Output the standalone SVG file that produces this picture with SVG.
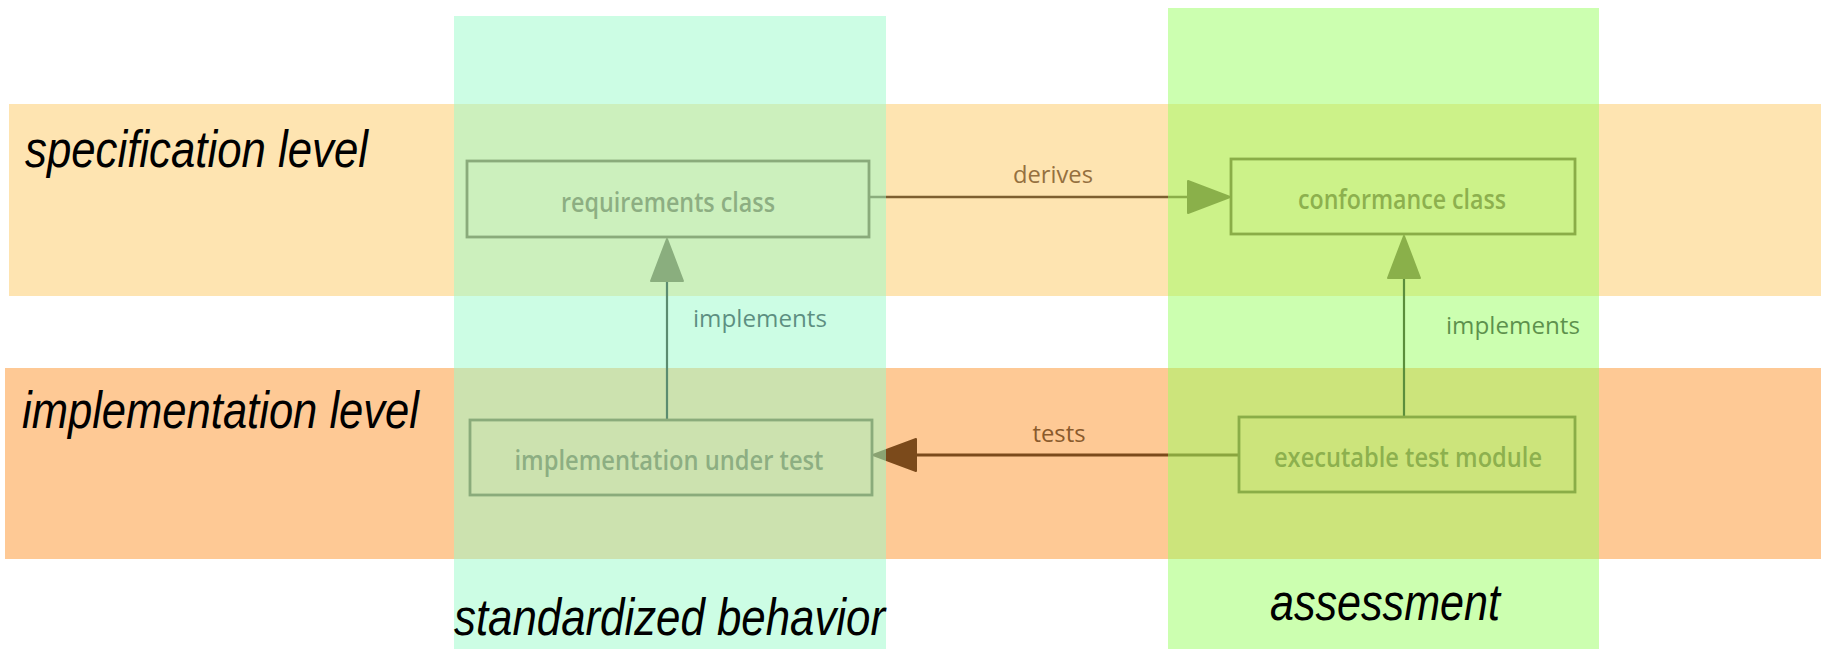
<svg xmlns="http://www.w3.org/2000/svg" width="1821" height="649" viewBox="0 0 1821 649">
<style>
.lvl{font-family:"Liberation Sans",Arial,sans-serif;font-style:italic;font-size:52px;fill:#000}
.box{fill:none;stroke:#7b5a2d;stroke-width:2.8}
.btxt{font-family:"Open Sans","DejaVu Sans",sans-serif;font-weight:600;font-size:27px;fill:#80603a;text-anchor:middle}
.ltxt{font-family:"Open Sans","DejaVu Sans",sans-serif;font-size:23px}
.vline{stroke:#1c1d16;stroke-width:2.2;fill:none}
.head{stroke-linejoin:round;stroke-width:2}
</style>
<rect width="1821" height="649" fill="#ffffff"/>
<g id="bands">
<rect id="band-spec" x="9" y="104" width="1812" height="192" fill="#fee4b1"/>
<rect id="band-impl" x="5" y="368" width="1816" height="191" fill="#fec995"/>
</g>
<text class="lvl" x="25" y="167" textLength="343" lengthAdjust="spacingAndGlyphs">specification level</text>
<text class="lvl" x="22" y="428" textLength="397" lengthAdjust="spacingAndGlyphs">implementation level</text>
<g id="connectors">
<g id="c-derives">
<line x1="869" y1="197" x2="1187" y2="197" stroke="#7d5f30" stroke-width="2.5"/>
<polygon class="head" points="1230,197 1188,181 1188,213" fill="#7b6133" stroke="#7b6133"/>
<text class="ltxt" x="1053" y="183" text-anchor="middle" fill="#95703f" textLength="80" lengthAdjust="spacingAndGlyphs">derives</text>
</g>
<g id="c-tests">
<line x1="1239" y1="455" x2="916" y2="455" stroke="#7b4a1b" stroke-width="3"/>
<polygon class="head" points="873,455 916,439 916,471" fill="#7b4a1b" stroke="#7b4a1b"/>
<text class="ltxt" x="1059" y="442" text-anchor="middle" fill="#8a5a2c" textLength="53" lengthAdjust="spacingAndGlyphs">tests</text>
</g>
<g id="c-impl-left">
<line class="vline" x1="667" y1="420" x2="667" y2="281"/>
<polygon class="head" points="667,239 651,281 683,281" fill="#7b6133" stroke="#7b6133"/>
<text class="ltxt" x="693" y="327" fill="#1e2238" textLength="134" lengthAdjust="spacingAndGlyphs">implements</text>
</g>
<g id="c-impl-right">
<line class="vline" x1="1404" y1="417" x2="1404" y2="278"/>
<polygon class="head" points="1404,236 1388,278 1420,278" fill="#7b6133" stroke="#7b6133"/>
<text class="ltxt" x="1446" y="334" fill="#1e2238" textLength="134" lengthAdjust="spacingAndGlyphs">implements</text>
</g>
</g>
<g id="node-requirements-class">
<rect class="box" x="467" y="161" width="402" height="76"/>
<text class="btxt" x="668" y="212" textLength="214" lengthAdjust="spacingAndGlyphs">requirements class</text>
</g>
<g id="node-conformance-class">
<rect class="box" x="1231" y="159" width="344" height="75"/>
<text class="btxt" x="1402" y="209" textLength="208" lengthAdjust="spacingAndGlyphs">conformance class</text>
</g>
<g id="node-implementation-under-test">
<rect class="box" x="470" y="420" width="402" height="75"/>
<text class="btxt" x="669" y="470" textLength="309" lengthAdjust="spacingAndGlyphs">implementation under test</text>
</g>
<g id="node-executable-test-module">
<rect class="box" x="1239" y="417" width="336" height="75"/>
<text class="btxt" x="1408" y="467" textLength="268" lengthAdjust="spacingAndGlyphs">executable test module</text>
</g>
<g id="columns">
<rect id="col-standardized" x="454" y="16" width="432" height="633" fill="#99fbc9" opacity="0.5"/>
<rect id="col-assessment" x="1168" y="8" width="431" height="641" fill="#99ff61" opacity="0.5"/>
</g>
<text class="lvl" x="454" y="635" textLength="431" lengthAdjust="spacingAndGlyphs">standardized behavior</text>
<text class="lvl" x="1270" y="620" textLength="230" lengthAdjust="spacingAndGlyphs">assessment</text>
</svg>
